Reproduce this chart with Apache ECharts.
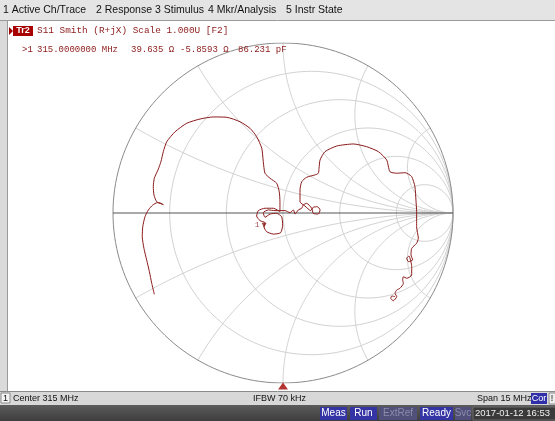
<!DOCTYPE html>
<html>
<head>
<meta charset="utf-8">
<script src="https://cdn.jsdelivr.net/npm/echarts/dist/echarts.min.js"></script>
<style>
html, body { margin: 0; padding: 0; background: #ffffff; }
#chart { width: 555px; height: 421px; }
</style>
</head>
<body>
<div id="chart"></div>
<script>
// grid of the Smith chart: resistance circles and reactance arcs (arcs every 30 deg on the rim)
const rCircles = [0.2, 0.5, 1, 2, 5];
const xArcs = [0.268, 0.577, 1, 1.732, 3.732];

const traceRe = [
  -0.757, -0.772, -0.786, -0.802, -0.818, -0.828, -0.825, -0.812, -0.792, -0.766,
  -0.739, -0.704, -0.718, -0.743, -0.759, -0.763, -0.757, -0.734, -0.718, -0.704,
  -0.684, -0.635, -0.566, -0.488, -0.410, -0.331, -0.253, -0.194, -0.155, -0.125,
  -0.116, -0.106, -0.076, -0.037, -0.022, -0.018, -0.018,
  -0.057, -0.106, -0.145, -0.155, -0.135, -0.106, -0.112, -0.096, -0.057, -0.014,
  -0.002, -0.008, -0.037, -0.076, -0.106, -0.116, -0.086, -0.047, 0.012, 0.041,
  0.061, 0.071, 0.090, 0.110, 0.119, 0.139, 0.169, 0.178, 0.208, 0.218,
  0.202, 0.178, 0.163, 0.129, 0.100,
  0.100, 0.110, 0.139, 0.188, 0.208, 0.212, 0.218, 0.247, 0.316, 0.414,
  0.492, 0.561, 0.610, 0.629, 0.669, 0.718, 0.757, 0.776, 0.782, 0.786,
  0.786, 0.796, 0.786, 0.757, 0.753, 0.763, 0.737, 0.728, 0.741, 0.757,
  0.757, 0.728, 0.708, 0.704, 0.708, 0.688, 0.669, 0.659, 0.669, 0.649,
  0.634, 0.640, 0.659
];
const traceIm = [
  -0.478, -0.414, -0.345, -0.276, -0.208, -0.139, -0.081, -0.022, 0.018, 0.047,
  0.061, 0.049, 0.057, 0.066, 0.106, 0.155, 0.204, 0.257, 0.302, 0.361,
  0.419, 0.478, 0.528, 0.553, 0.565, 0.563, 0.537, 0.498, 0.449, 0.381,
  0.302, 0.234, 0.204, 0.175, 0.125, 0.066, 0.008,
  0.028, 0.028, 0.014, -0.018, -0.045, -0.057, -0.081, -0.110, -0.124, -0.116,
  -0.071, -0.022, -0.002, -0.006, -0.025, 0.002, 0.018, 0.014, 0.014, 0.002,
  0.018, -0.006, 0.018, 0.028, 0.047, 0.057, 0.028, -0.002, -0.006, 0.018,
  0.037, 0.034, 0.014, 0.041, 0.066,
  0.135, 0.184, 0.210, 0.224, 0.234, 0.263, 0.312, 0.361, 0.394, 0.406,
  0.390, 0.361, 0.312, 0.243, 0.234, 0.237, 0.214, 0.155, 0.076, 0.008,
  -0.081, -0.149, -0.178, -0.208, -0.247, -0.276, -0.286, -0.266, -0.253, -0.316,
  -0.365, -0.384, -0.375, -0.394, -0.414, -0.443, -0.453, -0.472, -0.492, -0.516,
  -0.502, -0.488, -0.492
];

// marker 1 readout
const z0 = 50;
const markerR = 39.635;
const markerX = -5.8593;

const menuItems = ['1 Active Ch/Trace', '2 Response', '3 Stimulus', '4 Mkr/Analysis', '5 Instr State'];
const menuPos = [3, 96, 155, 208, 286];
const statusItems = ['Meas', 'Run', 'ExtRef', 'Ready', 'Svc'];
const statusOn = [true, true, false, true, false];
const statusPos = [320, 350, 379, 420, 455];
const statusW = [27, 27, 38, 33, 16];

const traceColor = '#8b1a1a';

function gamma(r, x) {
  const d = (r + 1) * (r + 1) + x * x;
  return [(r * r + x * x - 1) / d, 2 * x / d];
}

function rCircle(r) {
  const c = r / (1 + r), rad = 1 / (1 + r);
  const pts = [];
  for (let a = 0; a <= 360; a += 2) {
    const t = a * Math.PI / 180;
    pts.push([c + rad * Math.cos(t), rad * Math.sin(t)]);
  }
  return pts;
}

function xArc(x) {
  const pts = [];
  for (let a = 0; a < 90; a += 0.5) {
    pts.push(gamma(Math.tan(a * Math.PI / 180), x));
  }
  pts.push([1, 0]);
  return pts;
}

function gridSeries(data, color) {
  return {
    type: 'line', data: data, showSymbol: false, silent: true,
    lineStyle: { color: color, width: 1 }, z: 1, animation: false
  };
}

const series = [];
rCircles.forEach(r => series.push(gridSeries(rCircle(r), '#d2d2d2')));
xArcs.forEach(x => {
  series.push(gridSeries(xArc(x), '#d2d2d2'));
  series.push(gridSeries(xArc(-x), '#d2d2d2'));
});
series.push(gridSeries(rCircle(0), '#8a8a8a'));
series.push(gridSeries([[-1, 0], [1, 0]], '#555555'));

series.push({
  type: 'line',
  data: traceRe.map((v, i) => [v, traceIm[i]]),
  showSymbol: false,
  smooth: 0.2,
  lineStyle: { color: traceColor, width: 1 },
  z: 5,
  animation: false
});

// stimulus position marker at the bottom of the chart
series.push({
  type: 'scatter',
  data: [[0, -1]],
  symbol: 'triangle',
  symbolSize: [10, 7],
  symbolOffset: [0, 3],
  itemStyle: { color: '#a00000' },
  z: 6,
  animation: false
});

const mk = gamma(markerR / z0, markerX / z0);

const sans = '"Liberation Sans", Arial, sans-serif';
const mono = '"Liberation Mono", "DejaVu Sans Mono", monospace';

const graphic = [
  { type: 'rect', shape: { x: 0, y: 0, width: 555, height: 20 }, style: { fill: '#e4e4e4' }, z: -1 },
  { type: 'line', shape: { x1: 0, y1: 20.5, x2: 555, y2: 20.5 }, style: { stroke: '#9a9a9a' }, z: -1 },
  { type: 'rect', shape: { x: 0, y: 21, width: 7, height: 371 }, style: { fill: '#dadada' }, z: -1 },
  { type: 'line', shape: { x1: 7.5, y1: 21, x2: 7.5, y2: 392 }, style: { stroke: '#9a9a9a' }, z: -1 },
  { type: 'rect', shape: { x: 0, y: 392, width: 555, height: 13 }, style: { fill: '#d8d8d8' }, z: -1 },
  { type: 'line', shape: { x1: 0, y1: 391.5, x2: 555, y2: 391.5 }, style: { stroke: '#8a8a8a' }, z: -1 },
  {
    type: 'rect', shape: { x: 0, y: 405, width: 555, height: 16 },
    style: {
      fill: new echarts.graphic.LinearGradient(0, 0, 0, 1, [
        { offset: 0, color: '#5c5c5c' }, { offset: 1, color: '#3e3e3e' }
      ])
    }, z: -1
  },
  // header
  { type: 'polygon', shape: { points: [[9, 27], [13, 31], [9, 35]] }, style: { fill: '#a00000' }, z: 10 },
  { type: 'rect', shape: { x: 13, y: 26, width: 20, height: 10 }, style: { fill: '#a80000' }, z: 10 },
  { type: 'text', x: 23, y: 31, style: { text: 'Tr2', fill: '#ffffff', font: 'bold 9px ' + sans, align: 'center', verticalAlign: 'middle' }, z: 11 },
  { type: 'text', x: 37, y: 31, style: { text: 'S11 Smith (R+jX) Scale 1.000U [F2]', fill: traceColor, font: '9.4px ' + mono, verticalAlign: 'middle' }, z: 11 },
  { type: 'text', x: 22, y: 50, style: { text: '>1', fill: traceColor, font: '9px ' + mono, verticalAlign: 'middle' }, z: 11 },
  { type: 'text', x: 37, y: 50, style: { text: '315.0000000 MHz', fill: traceColor, font: '9px ' + mono, verticalAlign: 'middle' }, z: 11 },
  { type: 'text', x: 131, y: 50, style: { text: '39.635 Ω', fill: traceColor, font: '9px ' + mono, verticalAlign: 'middle' }, z: 11 },
  { type: 'text', x: 180, y: 50, style: { text: '-5.8593 Ω', fill: traceColor, font: '9px ' + mono, verticalAlign: 'middle' }, z: 11 },
  { type: 'text', x: 238, y: 50, style: { text: '86.231 pF', fill: traceColor, font: '9px ' + mono, verticalAlign: 'middle' }, z: 11 },
  // bottom info line
  { type: 'rect', shape: { x: 1, y: 393, width: 9, height: 10 }, style: { fill: '#f4f4f4', stroke: '#8a8a8a', lineWidth: 1 }, z: 10 },
  { type: 'text', x: 5.5, y: 398.5, style: { text: '1', fill: '#111', font: '9px ' + sans, align: 'center', verticalAlign: 'middle' }, z: 11 },
  { type: 'text', x: 13, y: 398.5, style: { text: 'Center 315 MHz', fill: '#111', font: '9px ' + sans, verticalAlign: 'middle' }, z: 11 },
  { type: 'text', x: 253, y: 398.5, style: { text: 'IFBW 70 kHz', fill: '#111', font: '9px ' + sans, verticalAlign: 'middle' }, z: 11 },
  { type: 'text', x: 477, y: 398.5, style: { text: 'Span 15 MHz', fill: '#111', font: '9px ' + sans, verticalAlign: 'middle' }, z: 11 },
  { type: 'rect', shape: { x: 531, y: 393, width: 16, height: 11 }, style: { fill: '#2f2fa8' }, z: 10 },
  { type: 'text', x: 539, y: 398.5, style: { text: 'Cor', fill: '#ffffff', font: '9px ' + sans, align: 'center', verticalAlign: 'middle' }, z: 11 },
  { type: 'rect', shape: { x: 549, y: 393, width: 8, height: 11 }, style: { fill: '#eeeeee', stroke: '#8a8a8a' }, z: 10 },
  { type: 'text', x: 552, y: 398.5, style: { text: '!', fill: '#111', font: '9px ' + sans, align: 'center', verticalAlign: 'middle' }, z: 11 },
  // status bar date
  { type: 'rect', shape: { x: 473, y: 407, width: 83, height: 13 }, style: { fill: '#3a3a3a', stroke: '#6a6a6a' }, z: 10 },
  { type: 'text', x: 475, y: 413.5, style: { text: '2017-01-12 16:53', fill: '#f0f0f0', font: '9.5px ' + sans, verticalAlign: 'middle' }, z: 11 }
];

menuItems.forEach((m, i) => {
  graphic.push({ type: 'text', x: menuPos[i], y: 10, style: { text: m, fill: '#111', font: '10.5px ' + sans, verticalAlign: 'middle' }, z: 11 });
});

statusItems.forEach((s, i) => {
  graphic.push({
    type: 'rect', shape: { x: statusPos[i], y: 407, width: statusW[i], height: 13 },
    style: { fill: statusOn[i] ? '#3434a4' : '#50507a' }, z: 10
  });
  graphic.push({
    type: 'text', x: statusPos[i] + statusW[i] / 2, y: 413.5,
    style: { text: s, fill: statusOn[i] ? '#ffffff' : '#8c8caa', font: '10px ' + sans, align: 'center', verticalAlign: 'middle' }, z: 11
  });
});

series.push({
  type: 'scatter',
  data: [mk],
  symbol: 'triangle',
  symbolRotate: 180,
  symbolSize: 5,
  itemStyle: { color: traceColor },
  label: { show: true, formatter: '1', position: 'left', distance: 2, color: traceColor, fontSize: 8, fontFamily: 'Liberation Mono' },
  z: 7,
  animation: false
});

const chart = echarts.init(document.getElementById('chart'));
chart.setOption({
  backgroundColor: '#ffffff',
  animation: false,
  grid: { left: 113, top: 43, width: 340, height: 340 },
  xAxis: { type: 'value', min: -1, max: 1, show: false },
  yAxis: { type: 'value', min: -1, max: 1, show: false },
  graphic: graphic,
  series: series
});
</script>
</body>
</html>
